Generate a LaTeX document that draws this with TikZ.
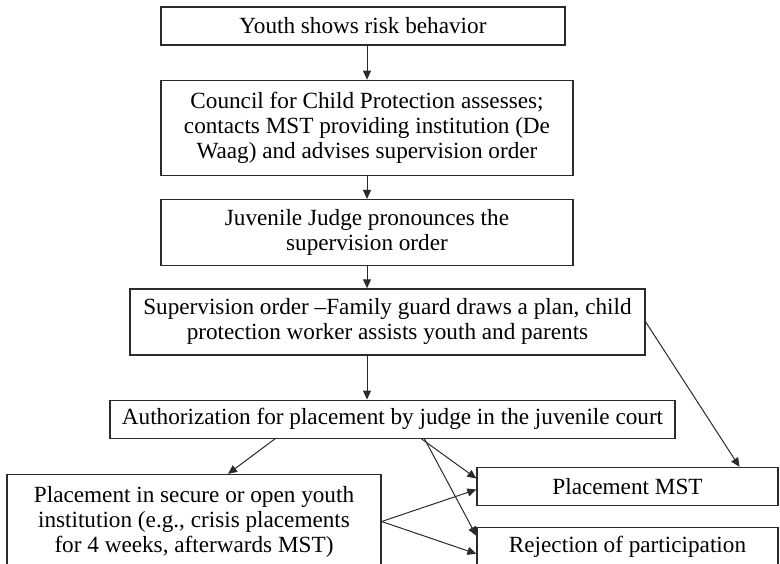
\documentclass[tikz,border=0pt]{standalone}
\usepackage{fontspec}
\setmainfont{Liberation Serif}
\usepackage{tikz}
\usetikzlibrary{positioning,arrows.meta}
\definecolor{edge}{HTML}{2B2B2B}

\begin{document}
\begin{tikzpicture}[
    node distance=11pt,
    stage/.style={draw=edge, line width=0.65pt, fill=white, inner sep=0pt, align=center, font=\fontsize{11.6pt}{12.5pt}\selectfont},
    flow/.style={-{Triangle[length=4.5pt,width=4pt]}, line width=0.5pt, edge}
]
\useasboundingbox[fill=white] (0,0) rectangle (390pt,-281.5pt);

\node[stage, minimum width=202pt, minimum height=19pt] (risk) at (181.5pt,-13pt) {Youth shows risk behavior};
\node[stage, minimum width=206pt, minimum height=47.5pt, below=17pt of risk, xshift=2pt] (council) {Council for Child Protection assesses;\\contacts MST providing institution (De\\Waag) and advises supervision order};
\node[stage, minimum width=206pt, minimum height=33pt, below=11.5pt of council] (judge) {Juvenile Judge pronounces the\\supervision order};
\node[stage, minimum width=257.5pt, minimum height=33pt, below=of judge, xshift=10.25pt] (order) {Supervision order –Family guard draws a plan, child\\protection worker assists youth and parents};
\node[stage, minimum width=282.5pt, minimum height=19pt, below=22pt of order, xshift=2.5pt] (auth) {Authorization for placement by judge in the juvenile court};

\node[stage, minimum width=187pt, minimum height=47pt, below=17.5pt of auth, xshift=-99.25pt] (secure) {Placement in secure or open youth\\institution (e.g., crisis placements\\for 4 weeks, afterwards MST)};
\node[stage, minimum width=150.5pt, minimum height=19pt, below=14pt of auth, xshift=117.5pt] (mst) {Placement MST};
\node[stage, minimum width=150.5pt, minimum height=18.5pt, below=10.5pt of mst] (reject) {Rejection of participation};

% main chain
\draw[flow] (council.north |- risk.south) -- (council.north);
\draw[flow] (council) -- (judge);
\draw[flow] (judge.south) -- (judge.south |- order.north);
\draw[flow] (judge.south |- order.south) -- (judge.south |- auth.north);
\draw[flow] (order.east) -- ([xshift=56pt]mst.north);

% outcomes
\draw[flow] ([xshift=-58.75pt]auth.south) -- ([xshift=17pt]secure.north);
\draw[flow] ([xshift=14.5pt]auth.south) -- ([yshift=4pt]mst.west);
\draw[flow] ([xshift=16pt]auth.south) -- ([yshift=5.25pt]reject.west);
\draw[flow] (secure.east) -- ([yshift=-1.5pt]mst.west);
\draw[flow] (secure.east) -- ([yshift=-3.75pt]reject.west);

\end{tikzpicture}
\end{document}
